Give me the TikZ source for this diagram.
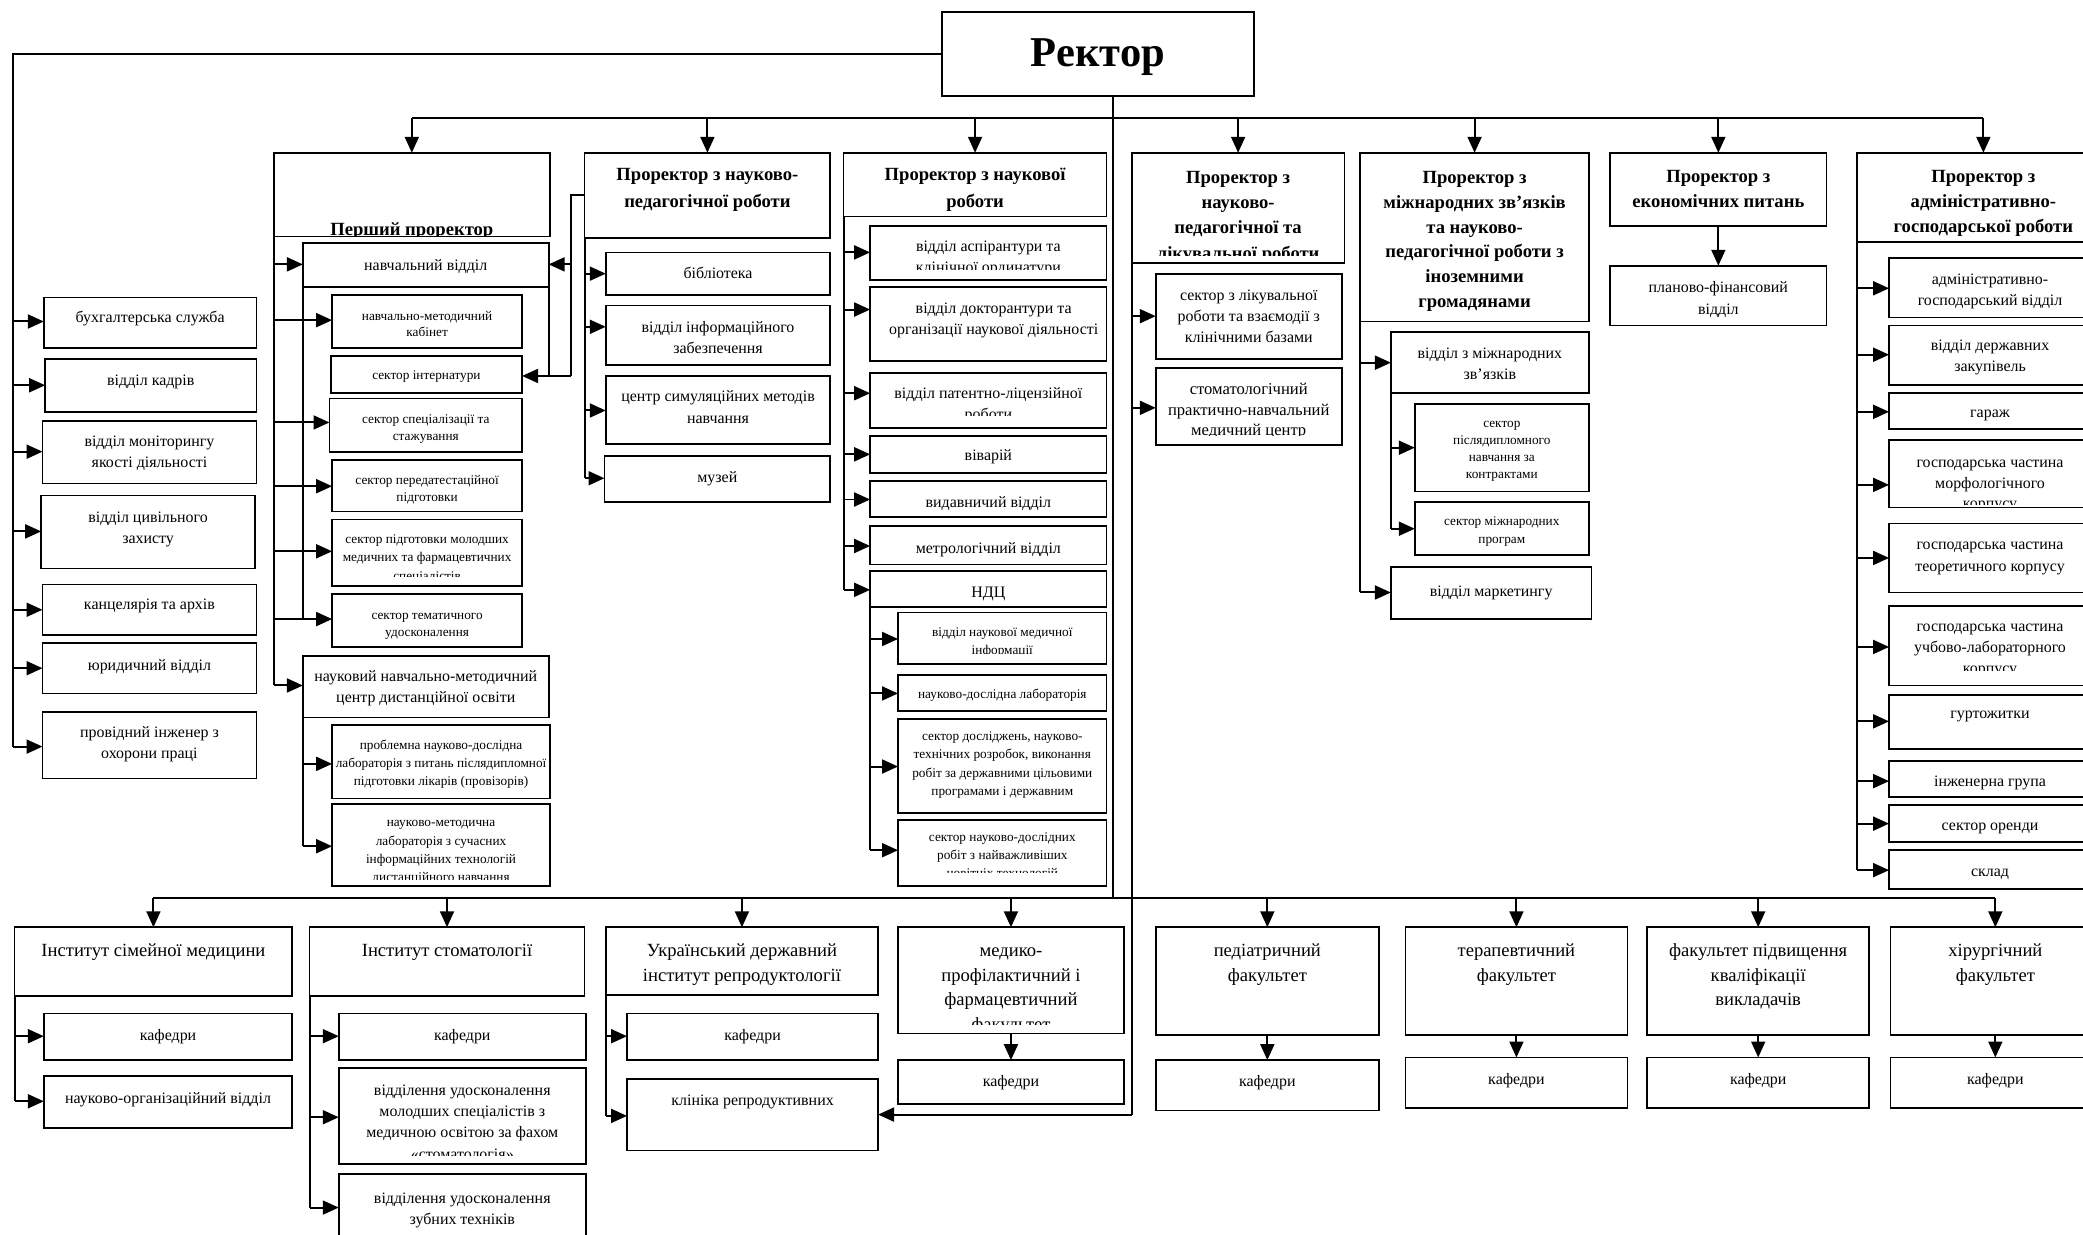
\documentclass[tikz,border=0pt]{standalone}
\usepackage{fontspec}
\setmainfont{Liberation Serif}
\usetikzlibrary{arrows.meta}
\tikzset{
  bx/.style={draw, line width=1.3pt, inner sep=0pt, outer sep=0pt},
  txt/.style={anchor=base, inner sep=0pt, fA},
  fA/.style={font=\fontsize{12}{#1}\selectfont}, fA/.default=16,
  fB/.style={font=\fontsize{10}{#1}\selectfont}, fB/.default=13.5,
  fH/.style={font=\bfseries\fontsize{14}{#1}\selectfont}, fH/.default=19,
  fC/.style={font=\fontsize{14}{#1}\selectfont}, fC/.default=18.5,
  ln/.style={line width=1.5pt},
  ar/.style={line width=1.5pt, -{Triangle[length=12pt,width=10.5pt]}},
}
% \ubox[text opts]{name}{x1}{y1}{x2}{y2}{first baseline}{bottom cut}{text}
\newcommand\ubox[9][]{%
  \node[bx, anchor=north west, minimum width={(#5)-(#3)}, minimum height={(#6)-(#4)}] (#2) at (#3,#4) {};
  \begin{scope}
    \clip ({#3+1},{#4+1}) rectangle ({#5-1},{#6-#8});
    \node[txt,#1] at ({(#3+#5)/2},#7) {\begin{tabular}[t]{@{}c@{}}#9\end{tabular}};
  \end{scope}}
\newcommand\hA[3]{\draw[ar] (#1 |- 0,#3) -- (#2.west |- 0,#3);}
\begin{document}
\begin{tikzpicture}[x=1pt, y=-1pt]
\useasboundingbox (0,0) rectangle (1568,929);
\clip (0,0) rectangle (1568,929);
\fill[white] (0,0) rectangle (1568,929);

% Rector
\ubox[font=\bfseries\fontsize{32}{38}\selectfont]{rector}{709}{9}{944}{72}{50}{0}{Ректор}

% left column
\ubox{bux}{33}{224}{193}{262}{243}{3}{бухгалтерська служба}
\ubox{kad}{34}{270}{193}{310}{290}{3}{відділ кадрів}
\ubox{mon}{32}{317}{193}{364}{336}{3}{відділ моніторингу\\якості діяльності}
\ubox{tsz}{31}{373}{192}{428}{393}{3}{відділ цивільного\\захисту}
\ubox{kan}{32}{440}{193}{478}{459}{3}{канцелярія та архів}
\ubox{yur}{32}{484}{193}{522}{505}{3}{юридичний відділ}
\ubox{ohp}{32}{536}{193}{586}{555}{3}{провідний інженер з\\охорони праці}

% vice-rectors
\ubox[fH]{p1}{206}{115}{414}{178}{177}{1}{Перший проректор}
\ubox[fH=20]{pnp}{440}{115}{625}{179}{136}{3}{Проректор з науково-\\педагогічної роботи}
\ubox[fH=20]{pn}{635}{115}{833}{163}{136}{3}{Проректор з наукової\\роботи}
\ubox[fH]{pl}{852}{115}{1012}{198}{138}{6}{Проректор з\\науково-\\педагогічної та\\лікувальної роботи}
\ubox[fH=18.7]{pm}{1024}{115}{1196}{242}{138}{3}{Проректор з\\міжнародних зв’язків\\та науково-\\педагогічної роботи з\\іноземними\\громадянами}
\ubox[fH]{pe}{1212}{115}{1375}{170}{137}{3}{Проректор з\\економічних питань}
\ubox[fH]{pa}{1398}{115}{1588}{182}{137}{3}{Проректор з\\адміністративно-\\господарської роботи}

% first vice-rector subtree
\ubox{nv}{228}{183}{413}{216}{203.5}{3}{навчальний відділ}
\ubox[fB=12.5]{nmk}{250}{222}{393}{262}{241}{3}{навчально-методичний\\кабінет}
\ubox[fB]{si}{249}{268}{393}{296}{286}{3}{сектор інтернатури}
\ubox[fB=12.6]{ss}{248}{300}{393}{340}{319}{3}{сектор спеціалізації та\\стажування}
\ubox[fB=12.6]{sp}{250}{346}{393}{385}{365}{3}{сектор передатестаційної\\підготовки}
\ubox[fB=14]{sm}{250}{391}{393}{441}{409}{7}{сектор підготовки молодших\\медичних та фармацевтичних\\спеціалістів}
\ubox[fB=13]{st}{250}{447}{393}{487}{466}{3}{сектор тематичного\\удосконалення}
\ubox{nc}{228}{494}{413}{540}{513}{3}{науковий навчально-методичний\\центр дистанційної освіти}
\ubox[fB]{pla}{250}{546}{414}{601}{564.5}{3}{проблемна науково-дослідна\\лабораторія з питань післядипломної\\підготовки лікарів (провізорів)}
\ubox[fB=13.7]{plb}{250}{605}{414}{667}{622.5}{5}{науково-методична\\лабораторія з сучасних\\інформаційних технологій\\дистанційного навчання}

% scientific-pedagogical subtree
\ubox{bib}{456}{190}{625}{222}{210}{3}{бібліотека}
\ubox{vie}{456}{230}{625}{275}{250}{3}{відділ інформаційного\\забезпечення}
\ubox[fA=16.5]{csm}{456}{283}{625}{334}{302}{3}{центр симуляційних методів\\навчання}
\ubox{muz}{455}{343}{625}{378}{363}{3}{музей}

% scientific subtree
\ubox{vas}{655}{170}{833}{211}{189}{8}{відділ аспірантури та\\клінічної ординатури}
\ubox[xshift=4pt]{vdk}{655}{216}{833}{272}{236}{3}{відділ докторантури та\\організації наукової діяльності}
\ubox{vpl}{655}{281}{833}{322}{300}{9}{відділ патентно-ліцензійної\\роботи}
\ubox{viv}{655}{328}{833}{356}{347}{3}{віварій}
\ubox{vyd}{655}{362}{833}{389}{382}{3}{видавничий відділ}
\ubox{met}{655}{396}{833}{425}{417}{3}{метрологічний відділ}
\ubox{ndc}{655}{430}{833}{457}{450}{3}{НДЦ}
\ubox[fB=13]{vnm}{676}{461}{833}{500}{479.5}{8}{відділ наукової медичної\\інформації}
\ubox[fB]{ndl}{676}{508}{833}{535}{525.5}{3}{науково-дослідна лабораторія}
\ubox[fB=13.7]{sdr}{676}{541}{833}{612}{557.5}{3}{сектор досліджень, науково-\\технічних розробок, виконання\\робіт за державними цільовими\\програмами і державним}
\ubox[fB=13.7]{snr}{676}{617}{833}{667}{633.5}{10}{сектор науково-дослідних\\робіт з найважливіших\\новітніх технологій}

% clinical subtree
\ubox{slr}{870}{206}{1010}{270}{226}{3}{сектор з лікувальної\\роботи та взаємодії з\\клінічними базами}
\ubox[font=\fontsize{12.5}{15.5}\selectfont]{spn}{870}{277}{1010}{335}{297}{7}{стоматологічний\\практично-навчальний\\медичний центр}

% international subtree
\ubox{vmz}{1047}{250}{1196}{296}{270}{3}{відділ з міжнародних\\зв’язків}
\ubox[fB=13]{spd}{1065}{304}{1196}{370}{321.5}{3}{сектор\\післядипломного\\навчання за\\контрактами}
\ubox[fB]{smp}{1065}{378}{1196}{418}{395.5}{3}{сектор міжнародних\\програм}
\ubox{vmk}{1047}{427}{1198}{466}{449}{3}{відділ маркетингу}

% economic
\ubox[fA=17]{pfv}{1212}{200}{1375}{245}{220}{3}{планово-фінансовий\\відділ}

% administrative subtree
\ubox{agv}{1422}{194}{1574}{239}{214}{3}{адміністративно-\\господарський відділ}
\ubox{vdz}{1422}{245}{1574}{290}{264}{3}{відділ державних\\закупівель}
\ubox{gar}{1422}{296}{1574}{323}{314}{3}{гараж}
\ubox[fA=15.5]{gmk}{1422}{331}{1574}{382}{352}{2}{господарська частина\\морфологічного\\корпусу}
\ubox{gtk}{1422}{394}{1574}{446}{414}{3}{господарська частина\\теоретичного корпусу}
\ubox{gul}{1422}{456}{1574}{516}{475}{11}{господарська частина\\учбово-лабораторного\\корпусу}
\ubox{gur}{1422}{523}{1574}{564}{541}{3}{гуртожитки}
\ubox{ing}{1422}{573}{1574}{600}{592}{3}{інженерна група}
\ubox{sor}{1422}{606}{1574}{634}{625}{3}{сектор оренди}
\ubox{skl}{1422}{640}{1574}{669}{660}{3}{склад}

% institutes and faculties
\ubox[fC]{ism}{11}{698}{220}{750}{720}{3}{Інститут сімейної медицини}
\ubox[fC]{ist}{233}{698}{440}{750}{720}{3}{Інститут стоматології}
\ubox[fC]{udr}{456}{698}{661}{749}{720}{3}{Український державний\\інститут репродуктології}
\ubox[fC]{mpf}{676}{698}{846}{778}{720}{7}{медико-\\профілактичний і\\фармацевтичний\\факультет}
\ubox[fC]{ped}{870}{698}{1038}{779}{720}{3}{педіатричний\\факультет}
\ubox[fC]{ter}{1058}{698}{1225}{779}{720}{3}{терапевтичний\\факультет}
\ubox[fC]{fpk}{1240}{698}{1407}{779}{720}{3}{факультет підвищення\\кваліфікації\\викладачів}
\ubox[fC]{khi}{1423}{698}{1581}{779}{720}{3}{хірургічний\\факультет}

\ubox{kis}{33}{763}{220}{798}{783}{3}{кафедри}
\ubox{nov}{33}{810}{220}{849}{831}{3}{науково-організаційний відділ}
\ubox{kst}{255}{763}{441}{798}{783}{3}{кафедри}
\ubox{vum}{255}{804}{441}{876}{824.5}{6}{відділення удосконалення\\молодших спеціалістів з\\медичною освітою за фахом\\«стоматологія»}
\ubox{vzt}{255}{884}{441}{945}{906}{3}{відділення удосконалення\\зубних техніків}
\ubox{kud}{472}{763}{661}{798}{783}{3}{кафедри}
\ubox{kli}{472}{812}{661}{866}{832}{3}{клініка репродуктивних}
\ubox{kmp}{676}{798}{846}{831}{818}{3}{кафедри}
\ubox{kpe}{870}{798}{1038}{836}{818}{3}{кафедри}
\ubox{kte}{1058}{796}{1225}{834}{816}{3}{кафедри}
\ubox{kfp}{1240}{796}{1407}{834}{816}{3}{кафедри}
\ubox{kkh}{1423}{796}{1581}{834}{816}{3}{кафедри}

% ---------- connectors ----------
\coordinate (lb) at (10,0);
\coordinate (mv) at (838,0);
\coordinate (tb) at (0,89);
\coordinate (bb) at (0,676);
\coordinate (j1) at (430,0);

\draw[ln] (rector.west) -- (rector.west -| lb) -- (lb |- 0,562);
\hA{lb}{bux}{242} \hA{lb}{kad}{290} \hA{lb}{mon}{340} \hA{lb}{tsz}{400}
\hA{lb}{kan}{459} \hA{lb}{yur}{503} \hA{lb}{ohp}{562}

\draw[ln] (rector.south -| mv) -- (mv |- bb);
\draw[ln] (p1.north |- tb) -- (pa.north |- tb);
\foreach \n in {p1,pnp,pn,pl,pm,pe,pa} \draw[ar] (\n.north |- tb) -- (\n.north);
\draw[ln] (ism.north |- bb) -- (khi.north |- bb);
\foreach \n in {ism,ist,udr,mpf,ped,ter,fpk,khi} \draw[ar] (\n.north |- bb) -- (\n.north);

% first vice-rector
\draw[ln] (p1.south west) -- (p1.south west |- 0,516);
\hA{p1.south west}{nv}{199} \hA{p1.south west}{nmk}{241} \hA{p1.south west}{ss}{318}
\hA{p1.south west}{sp}{366} \hA{p1.south west}{sm}{415} \hA{p1.south west}{st}{466}
\hA{p1.south west}{nc}{516}
\draw[ln] (nv.south west) -- (nv.south west |- 0,467);
\draw[ln] (nv.south east) -- (nv.south east |- 0,283);
\draw[ln] (pnp.west) -- (pnp.west -| j1) -- (j1 |- 0,283);
\draw[ar] (j1 |- 0,283) -- (si.east |- 0,283);
\draw[ar] (j1 |- 0,199) -- (nv.east |- 0,199);
\draw[ln] (nc.south west) -- (nc.south west |- 0,637);
\hA{nc.south west}{pla}{575} \hA{nc.south west}{plb}{637}

% scientific-pedagogical
\draw[ln] (pnp.south west) -- (pnp.south west |- 0,360);
\hA{pnp.south west}{bib}{206} \hA{pnp.south west}{vie}{246}
\hA{pnp.south west}{csm}{309} \hA{pnp.south west}{muz}{360}

% scientific
\draw[ln] (pn.south west) -- (pn.south west |- 0,444);
\hA{pn.south west}{vas}{190} \hA{pn.south west}{vdk}{233} \hA{pn.south west}{vpl}{296}
\hA{pn.south west}{viv}{342} \hA{pn.south west}{vyd}{376} \hA{pn.south west}{met}{411}
\hA{pn.south west}{ndc}{444}
\draw[ln] (ndc.south west) -- (ndc.south west |- 0,640);
\hA{ndc.south west}{vnm}{481} \hA{ndc.south west}{ndl}{522}
\hA{ndc.south west}{sdr}{577} \hA{ndc.south west}{snr}{640}

% clinical
\draw[ln] (pl.south west) -- (pl.south west |- kli.east);
\draw[ar] (pl.south west |- kli.east) -- (kli.east);
\hA{pl.south west}{slr}{238} \hA{pl.south west}{spn}{307}

% international
\draw[ln] (pm.south west) -- (pm.south west |- 0,446);
\hA{pm.south west}{vmz}{273} \hA{pm.south west}{vmk}{446}
\draw[ln] (vmz.south west) -- (vmz.south west |- 0,398);
\hA{vmz.south west}{spd}{337} \hA{vmz.south west}{smp}{398}

% economic
\draw[ar] (pe.south) -- (pfv.north);

% administrative
\draw[ln] (pa.south west) -- (pa.south west |- 0,655);
\hA{pa.south west}{agv}{217} \hA{pa.south west}{vdz}{267} \hA{pa.south west}{gar}{310}
\hA{pa.south west}{gmk}{365} \hA{pa.south west}{gtk}{420} \hA{pa.south west}{gul}{487}
\hA{pa.south west}{gur}{543} \hA{pa.south west}{ing}{588} \hA{pa.south west}{sor}{620}
\hA{pa.south west}{skl}{655}

% institutes
\draw[ln] (ism.south west) -- (ism.south west |- 0,829);
\hA{ism.south west}{kis}{780} \hA{ism.south west}{nov}{829}
\draw[ln] (ist.south west) -- (ist.south west |- 0,909);
\hA{ist.south west}{kst}{780} \hA{ist.south west}{vum}{841} \hA{ist.south west}{vzt}{909}
\draw[ln] (udr.south west) -- (udr.south west |- 0,840);
\hA{udr.south west}{kud}{780} \hA{udr.south west}{kli}{840}

% faculties
\draw[ar] (mpf.south) -- (kmp.north);
\draw[ar] (ped.south) -- (kpe.north);
\draw[ar] (ter.south) -- (kte.north);
\draw[ar] (fpk.south) -- (kfp.north);
\draw[ar] (khi.south) -- (kkh.north);
\end{tikzpicture}
\end{document}
